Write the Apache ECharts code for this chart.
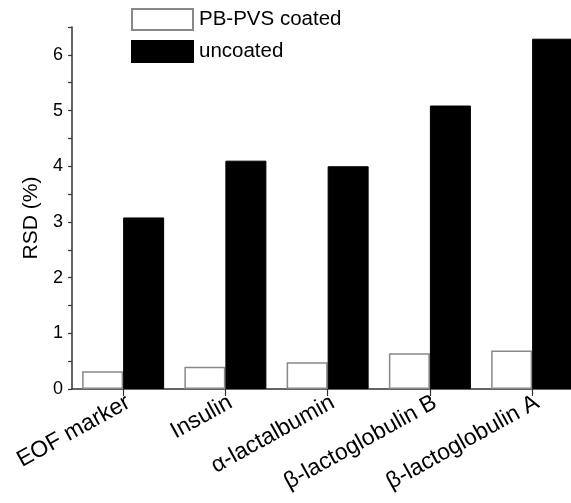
<!DOCTYPE html>
<html>
<head>
<meta charset="utf-8">
<script src="https://cdn.jsdelivr.net/npm/echarts@6/dist/echarts.min.js"></script>
<style>
  html, body { margin: 0; padding: 0; background: #fff; }
  #chart { width: 571px; height: 503px; }
</style>
</head>
<body>
<div id="chart"></div>
<script>
// Relative standard deviation of migration time, coated vs uncoated capillary
const categories = ['EOF marker', 'Insulin', 'α-lactalbumin', 'β-lactoglobulin B', 'β-lactoglobulin A'];
const coated = [0.32, 0.40, 0.48, 0.64, 0.69];
const uncoated = [3.08, 4.1, 4.0, 5.09, 6.29];
const yTicks = [0, 1, 2, 3, 4, 5, 6];

const positions = categories.map((c, i) => i + 1);
const FONT = 'Liberation Sans, Arial, Helvetica, sans-serif';
const AXIS_COLOR = '#333';

const chart = echarts.init(document.getElementById('chart'), null, { renderer: 'canvas' });

chart.setOption({
  animation: false,
  backgroundColor: '#fff',
  textStyle: { fontFamily: FONT, color: '#000' },
  legend: {
    orient: 'vertical',
    left: 131,
    top: 8,
    padding: 0,
    itemWidth: 61,
    itemHeight: 21,
    itemGap: 9,
    icon: 'rect',
    textStyle: { fontFamily: FONT, fontSize: 20.5, color: '#000', padding: [0, 0, 0, 1] },
    data: ['PB-PVS coated', 'uncoated']
  },
  grid: { left: 72, right: 0, top: 27, bottom: 114, containLabel: false },
  xAxis: {
    type: 'value',
    min: 0.5,
    max: 5.38,
    splitLine: { show: false },
    axisLine: { show: true, onZero: false, lineStyle: { color: AXIS_COLOR, width: 1.5 } },
    axisTick: { show: true, customValues: positions, length: 7, lineStyle: { color: AXIS_COLOR, width: 1.2 } },
    axisLabel: {
      customValues: positions,
      formatter: v => categories[Math.round(v) - 1] || '',
      rotate: 29,
      margin: 15,
      fontFamily: FONT,
      fontSize: 23,
      color: '#000',
      padding: [0, -6, 0, 0]
    }
  },
  yAxis: {
    type: 'value',
    min: 0,
    max: 6.5,
    interval: 1,
    name: 'RSD (%)',
    nameLocation: 'middle',
    nameGap: 29,
    nameRotate: 90,
    nameTextStyle: { fontFamily: FONT, fontSize: 21, color: '#000', padding: [0, 20, 0, 0] },
    splitLine: { show: false },
    axisLine: { show: true, lineStyle: { color: AXIS_COLOR, width: 1.5 } },
    axisTick: { show: true, length: 4, lineStyle: { color: AXIS_COLOR, width: 1.2 } },
    minorTick: { show: true, splitNumber: 2, length: 4, lineStyle: { color: AXIS_COLOR, width: 1.2 } },
    axisLabel: {
      margin: 9,
      fontFamily: FONT,
      fontSize: 18,
      color: '#000',
      showMaxLabel: false,
      formatter: v => (yTicks.indexOf(v) >= 0 ? String(v) : '')
    }
  },
  series: [
    {
      name: 'PB-PVS coated',
      type: 'bar',
      barWidth: 41,
      barGap: '0%',
      itemStyle: { color: '#fff', borderColor: '#888', borderWidth: 1.5 },
      data: positions.map((x, i) => [x, coated[i]])
    },
    {
      name: 'uncoated',
      type: 'bar',
      barWidth: 41,
      barGap: '0%',
      itemStyle: { color: '#000', borderColor: '#000', borderWidth: 1 },
      data: positions.map((x, i) => [x, uncoated[i]])
    }
  ]
});
</script>
</body>
</html>
